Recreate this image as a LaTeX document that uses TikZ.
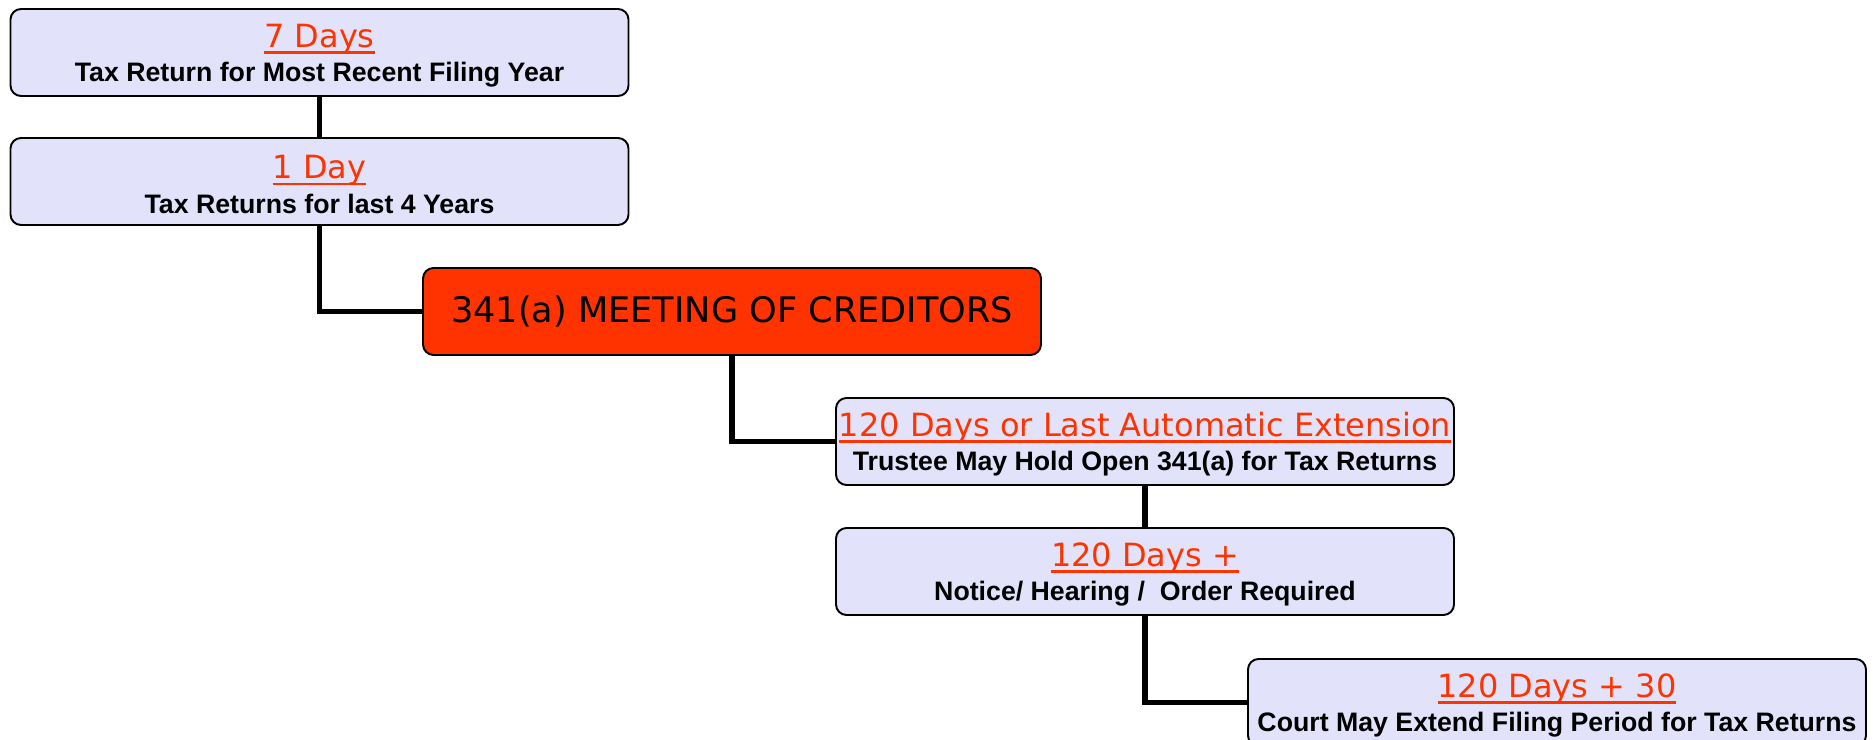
\documentclass[tikz,border=0pt]{standalone}
\usepackage{fontspec}
\setmainfont{Liberation Sans}
\newfontfamily\dayfont{DejaVu Sans}

\definecolor{meetred}{RGB}{255,51,0}
\definecolor{boxblue}{RGB}{226,226,251}

% red heading with underline, black note below
\newcommand{\daytitle}[1]{{\dayfont\fontsize{9.1}{9.8}\selectfont\color{meetred}%
  \rule{0pt}{8.4pt}\setbox0\hbox{#1}\rlap{\rule[-1.8pt]{\wd0}{0.75pt}}\box0}}
\newcommand{\daynote}[1]{{\fontsize{7.6}{9.8}\selectfont\bfseries #1}}

\tikzset{
  daybox/.style={draw, line width=0.55pt, rounded corners=3pt, fill=boxblue,
    minimum width=6.18cm, minimum height=0.87cm, inner xsep=0.5pt, inner ysep=0pt,
    align=center, font=\fontsize{7.6}{9.8}\selectfont},
  meetbox/.style={draw, line width=0.55pt, rounded corners=3pt, fill=meetred,
    minimum width=6.18cm, minimum height=0.87cm, inner sep=0pt,
    font=\dayfont\fontsize{10}{12}\selectfont},
  link/.style={line width=1.45pt}
}

\begin{document}
\begin{tikzpicture}
   \useasboundingbox (0,0) rectangle (18.73,-7.40);
   \node[daybox] (sevenday) at (3.195,-0.525) {\daytitle{7 Days}\\\daynote{Tax Return for Most Recent Filing Year}};
   \node[daybox] (oneday)   at (3.195,-1.815) {\daytitle{1 Day}\\\daynote{Tax Returns for last 4 Years}};
   \node[meetbox] (meeting) at (7.32,-3.115) {341(a) MEETING OF CREDITORS};
   \node[daybox] (holdopen) at (11.45,-4.415) {\daytitle{120 Days or Last Automatic Extension}\\\daynote{Trustee May Hold Open 341(a) for Tax Returns}};
   \node[daybox] (notice)   at (11.45,-5.715) {\daytitle{120 Days +}\\\daynote{Notice/ Hearing /\ \ Order Required}};
   \node[daybox] (extend)   at (15.57,-7.025) {\daytitle{120 Days + 30}\\\daynote{Court May Extend Filing Period for Tax Returns}};

   \draw[link] (sevenday) -- (oneday);
   \draw[link] (oneday) |- (meeting);
   \draw[link] (meeting) |- (holdopen);
   \draw[link] (holdopen) -- (notice);
   \draw[link] (notice) |- (extend);
 \end{tikzpicture}
\end{document}
